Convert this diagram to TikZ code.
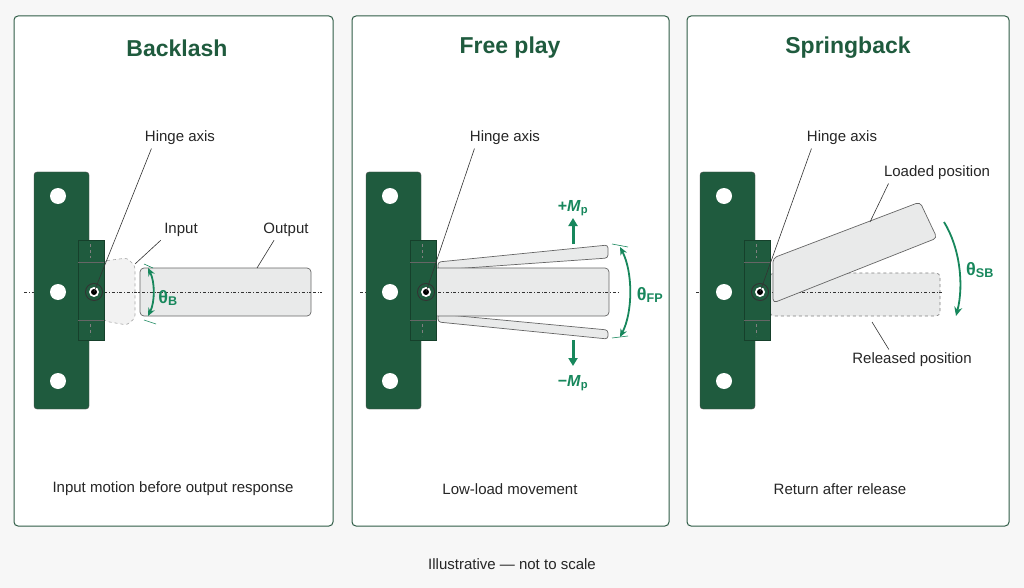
\documentclass[tikz,border=0pt]{standalone}
\usepackage{fontspec}
\setmainfont{Liberation Sans}
\usetikzlibrary{arrows.meta}
\definecolor{plategreen}{HTML}{1F5B3E}
\definecolor{accent}{HTML}{17875C}
\definecolor{barfill}{HTML}{E9EAEA}
\definecolor{panelline}{HTML}{2F5C46}
\tikzset{
  panel/.style={draw=panelline,line width=1pt,fill=white,rounded corners=4pt},
  title/.style={font=\fontsize{23}{26}\selectfont\bfseries,text=plategreen},
  lbl/.style={font=\fontsize{15}{18}\selectfont,text=black!85},
  leader/.style={black!80,line width=0.6pt},
  bar/.style={draw=black!60,fill=barfill,line width=0.7pt,rounded corners=4pt},
  axisline/.style={black!80,line width=0.6pt,dash dot},
  acc/.style={accent,line width=1.8pt},
  theta/.style={text=accent,font=\fontsize{18}{20}\selectfont\bfseries},
}
% plate, hinge block and pivot; #1 = x of pivot
\newcommand{\hingeplate}[1]{
  \fill[plategreen,draw=black!70,rounded corners=3pt] (#1-60,172) rectangle (#1-5,409);
  \foreach \hy in {196,292,381}
    \fill[white] (#1-36,\hy) circle (8);
  \draw[plategreen!70!black,fill=plategreen,line width=0.8pt] (#1-16,240) rectangle (#1+10,340);
  \draw[black!60,line width=0.5pt] (#1-16,262) -- (#1+10,262) (#1-16,320) -- (#1+10,320);
  \draw[black!50,dashed,line width=0.4pt] (#1-4,244) -- (#1-4,258) (#1-4,324) -- (#1-4,336);
  \fill[black!80] (#1,292) circle (9);
  \fill[plategreen] (#1,292) circle (8);
  \fill[white] (#1,292) circle (5);
  \fill[black] (#1,292) circle (3);
}
\begin{document}
\begin{tikzpicture}[x=1pt,y=-1pt]
  \useasboundingbox[fill=white!97!black] (0,0) rectangle (1024,588);
  % panels
  \draw[panel] (14,16) rectangle (333,526);
  \draw[panel] (352,16) rectangle (669,526);
  \draw[panel] (687,16) rectangle (1009,526);
  \node[title] (t1) at (177,48) {Backlash};
  \node[title] (t2) at (510,48) {Free play};
  \node[title] (t3) at (848,48) {Springback};

  % Backlash
  \draw[axisline] (24,292) -- (322,292);
  \draw[bar] (140,268) rectangle (311,316);
  \draw[draw=black!35,fill=barfill!60,dashed,line width=0.6pt,rounded corners=3pt]
    (104,261) -- (127,258) -- (135,266) -- (135,318) -- (127,325) -- (104,321) -- cycle;
  \draw[axisline] (104,292) -- (311,292);
  \hingeplate{94}
  \coordinate (piv1) at (94,292);
  \draw[acc,{Stealth[length=8pt,width=7pt]}-{Stealth[length=8pt,width=7pt]}] (148,268) .. controls (155,282) and (155,302) .. (148,316);
  \draw[accent,line width=0.6pt] (144,264) -- (153,268) (144,320) -- (156,324);
  \node[theta] (thb) at (168,298) {θ\textsubscript{B}};
  \node[lbl] (h1) at (180,138) {Hinge axis};
  \node[lbl] (in1) at (181,230) {Input};
  \node[lbl] (out1) at (286,230) {Output};
  \coordinate (in1e) at (135,264);
  \coordinate (out1e) at (257,268);
  \draw[leader] (h1.south west) ++(10,0) -- (piv1);
  \draw[leader] (in1.south west) -- (in1e);
  \draw[leader] (out1.south) ++(-12,0) -- (out1e);
  \node[lbl] (b1) at (173,489) {Input motion before output response};

  % Free play
  \draw[axisline] (360,292) -- (400,292);
  \draw[bar,rounded corners=3pt] (438,262) -- (608,245) -- (608,258) -- (438,270) -- cycle;
  \draw[bar,rounded corners=3pt] (438,322) -- (608,339) -- (608,330) -- (438,314) -- cycle;
  \draw[bar] (430,268) rectangle (609,316);
  \draw[axisline] (438,292) -- (618,292);
  \hingeplate{426}
  \coordinate (piv2) at (426,292);
  \draw[accent,line width=3pt,-{Triangle[length=8pt,width=9pt]}] (573,244) -- (573,218);
  \draw[accent,line width=3pt,-{Triangle[length=8pt,width=9pt]}] (573,340) -- (573,366);
  \node[accent,font=\fontsize{16}{18}\selectfont\bfseries] (mp) at (573,208) {+\textit{M}\textsubscript{p}};
  \node[accent,font=\fontsize{16}{18}\selectfont\bfseries] (mm) at (573,383) {−\textit{M}\textsubscript{p}};
  \draw[accent,line width=0.6pt] (612,244) -- (628,247) (612,338) -- (628,336);
  \draw[acc,{Stealth[length=8pt,width=7pt]}-{Stealth[length=8pt,width=7pt]}] (620,247) .. controls (633,272) and (633,312) .. (620,337);
  \node[theta] (thfp) at (650,295) {θ\textsubscript{FP}};
  \node[lbl] (h2) at (505,138) {Hinge axis};
  \draw[leader] (h2.south west) ++(8,0) -- (piv2);
  \node[lbl] (b2) at (510,489) {Low-load movement};

  % Springback
  \draw[axisline] (696,292) -- (740,292);
  \draw[bar,dashed,draw=black!50] (770,273) rectangle (940,316);
  \draw[axisline] (772,292) -- (942,292);
  \draw[bar] (773,258) -- (920,202) -- (937,238) -- (773,303) -- cycle;
  \hingeplate{760}
  \coordinate (piv3) at (760,292);
  \draw[acc,-{Stealth[length=9pt,width=8pt]}] (944,222) .. controls (960,248) and (964,285) .. (956,316);
  \node[theta] (thsb) at (980,270) {θ\textsubscript{SB}};
  \node[lbl] (h3) at (842,138) {Hinge axis};
  \node[lbl] (lp) at (937,173) {Loaded position};
  \node[lbl] (rp) at (912,360) {Released position};
  \coordinate (lpe) at (870,222);
  \coordinate (rpe) at (872,322);
  \draw[leader] (h3.south west) ++(8,0) -- (piv3);
  \draw[leader] (lp.south west) ++(8,0) -- (lpe);
  \draw[leader] (rp.north west) ++(40,0) -- (rpe);
  \node[lbl] (b3) at (840,489) {Return after release};

  \node[lbl] (note) at (512,564) {Illustrative — not to scale};
\end{tikzpicture}
\end{document}
